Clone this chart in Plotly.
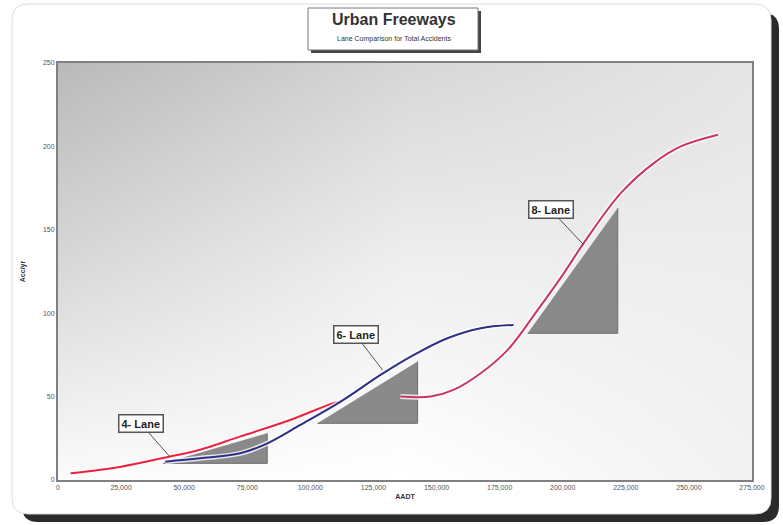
import plotly.graph_objects as go

# ---- data ----
x_ticks = [0, 25000, 50000, 75000, 100000, 125000, 150000, 175000, 200000, 225000, 250000, 275000]
y_ticks = [0, 50, 100, 150, 200, 250]

lane4_x = [5000, 25000, 44000, 56000, 72000, 92000, 109000, 112000]
lane4_y = [4, 8, 14, 18, 26, 36, 46, 47]

lane6_x = [42500, 56300, 72200, 83000, 96000, 112000, 127800, 141000, 154300, 167500, 180500]
lane6_y = [11, 13, 16, 22, 33, 47, 63, 75, 85, 91, 93]

lane8_x = [135700, 147600, 156700, 167500, 178200, 190100, 200000, 208300, 223000, 236100, 246800, 261500]
lane8_y = [50, 50, 54, 64, 78, 102, 123, 142, 172, 190, 200, 207]

tri4_x = [41700, 82900, 82900]
tri4_y = [10, 10, 28]
tri6_x = [102800, 142500, 142500]
tri6_y = [34, 34, 71]
tri8_x = [186100, 221800, 221800]
tri8_y = [88, 88, 163]

labels = ["4- Lane", "6- Lane", "8- Lane"]
label_pts_x = [44400, 128600, 208300]
label_pts_y = [13.8, 66, 141]

X_MAX = 275000
Y_MAX = 250

# ---- layout geometry (pixels) ----
W, H = 783, 525
ML, MR, MT, MB = 58, 31, 63, 45
PW = W - ML - MR
PH = H - MT - MB


def px2paper(px, py):
    return (px - ML) / PW, (H - MB - py) / PH


def rounded_rect(x0, y0, x1, y1, r):
    def P(px, py):
        a, b = px2paper(px, py)
        return f"{a:.5f},{b:.5f}"
    s = f"M {P(x0 + r, y0)} L {P(x1 - r, y0)} Q {P(x1, y0)} {P(x1, y0 + r)} "
    s += f"L {P(x1, y1 - r)} Q {P(x1, y1)} {P(x1 - r, y1)} "
    s += f"L {P(x0 + r, y1)} Q {P(x0, y1)} {P(x0, y1 - r)} "
    s += f"L {P(x0, y0 + r)} Q {P(x0, y0)} {P(x0 + r, y0)} Z"
    return s


FONT = "Arial, Liberation Sans, sans-serif"

fig = go.Figure()

# background gradient of the plot area
fig.add_trace(go.Heatmap(
    x=[0, X_MAX / 2, X_MAX], y=[0, Y_MAX / 2, Y_MAX],
    z=[[0.97, 1.0, 0.90],
       [0.70, 0.88, 0.86],
       [0.45, 0.68, 0.80]],
    zmin=0, zmax=1, zsmooth="best", showscale=False, hoverinfo="skip",
    colorscale=[[0, "#808080"], [1, "#ffffff"]],
))

tri_fill = "rgba(128,128,128,0.92)"
for tx, ty in [(tri4_x, tri4_y), (tri6_x, tri6_y), (tri8_x, tri8_y)]:
    fig.add_trace(go.Scatter(x=tx, y=ty, fill="toself", fillcolor=tri_fill, mode="lines",
                             line=dict(color="#6a6a6a", width=1), showlegend=False, hoverinfo="skip"))

series = [(lane4_x, lane4_y, "#f02040"), (lane6_x, lane6_y, "#2c2f86"), (lane8_x, lane8_y, "#c8346c")]
for sx, sy, col in series:
    fig.add_trace(go.Scatter(x=sx, y=sy, mode="lines", line=dict(color="rgba(255,255,255,0.8)", width=5, shape="spline"),
                             showlegend=False, hoverinfo="skip"))
    fig.add_trace(go.Scatter(x=sx, y=sy, mode="lines", line=dict(color=col, width=2, shape="spline"),
                             showlegend=False))

annotations = []
offsets = [(-29, -33), (-27, -35), (-33, -35)]
for lab, lx, ly, (ax, ay) in zip(labels, label_pts_x, label_pts_y, offsets):
    annotations.append(dict(x=lx, y=ly, xref="x", yref="y", text=f"<b>{lab}</b>", showarrow=True,
                            arrowhead=0, arrowwidth=1, arrowcolor="#555555", ax=ax, ay=ay,
                            bgcolor="white", bordercolor="#555555", borderwidth=1.5, borderpad=2,
                            font=dict(family=FONT, size=11, color="#222222")))

# title
tx, ty = px2paper(394, 20)
annotations.append(dict(x=tx, y=ty, xref="paper", yref="paper", text="<b>Urban Freeways</b>", showarrow=False,
                        font=dict(family=FONT, size=16, color="#333333"), xanchor="center", yanchor="middle"))
tx, ty = px2paper(394, 39)
annotations.append(dict(x=tx, y=ty, xref="paper", yref="paper", text="Lane Comparison for Total Accidents",
                        showarrow=False, font=dict(family=FONT, size=7, color="#333333"),
                        xanchor="center", yanchor="middle"))

shapes = [
    dict(type="path", xref="paper", yref="paper", path=rounded_rect(22, 13, 779, 522, 16),
         fillcolor="#2a2a2a", line=dict(width=0), layer="below"),
    dict(type="path", xref="paper", yref="paper", path=rounded_rect(12, 4, 771, 514, 16),
         fillcolor="#ffffff", line=dict(color="#dddddd", width=1), layer="below"),
]
# title box with shadow
a0, b0 = px2paper(311, 11)
a1, b1 = px2paper(481, 53)
shapes.append(dict(type="rect", xref="paper", yref="paper", x0=a0, y0=b1, x1=a1, y1=b0,
                   fillcolor="#444444", line=dict(width=0)))
a0, b0 = px2paper(308, 8)
a1, b1 = px2paper(478, 50)
shapes.append(dict(type="rect", xref="paper", yref="paper", x0=a0, y0=b1, x1=a1, y1=b0,
                   fillcolor="#ffffff", line=dict(color="#777777", width=1)))

fig.update_layout(
    width=W, height=H,
    margin=dict(l=ML, r=MR, t=MT, b=MB),
    paper_bgcolor="white", plot_bgcolor="rgba(0,0,0,0)",
    shapes=shapes, annotations=annotations, showlegend=False,
    font=dict(family=FONT, size=7, color="#444444"),
)
fig.update_xaxes(range=[0, X_MAX], tickvals=x_ticks, tickformat=",", showgrid=False, zeroline=False,
                 showline=True, mirror=True, linecolor="#808080", linewidth=2, ticks="",
                 tickfont=dict(size=7, color="#555555"),
                 title=dict(text="<b>AADT</b>", font=dict(size=7, color="#333333"), standoff=4))
fig.update_yaxes(range=[0, Y_MAX], tickvals=y_ticks, showgrid=False, zeroline=False,
                 showline=True, mirror=True, linecolor="#808080", linewidth=2, ticks="",
                 tickfont=dict(size=7, color="#555555"),
                 title=dict(text="<b>Acc/yr</b>", font=dict(size=7, color="#333333"), standoff=16))

fig.write_html("out.html")
